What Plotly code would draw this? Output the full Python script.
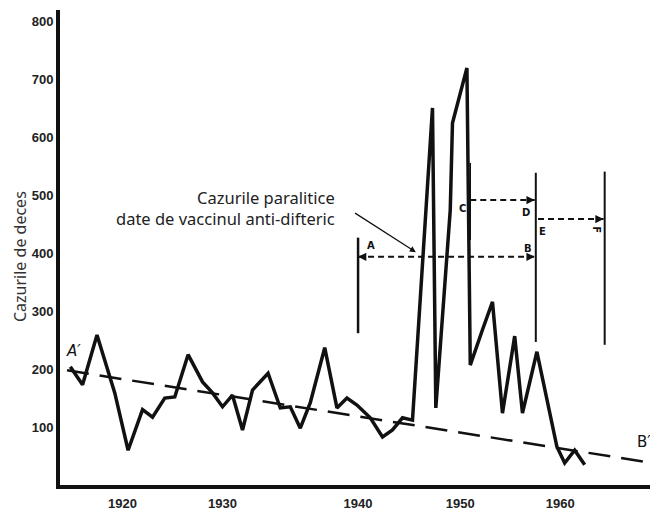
import plotly.graph_objects as go

# --- DATA ---

years = [1915.3, 1916.4, 1917.7, 1919.3, 1920.5, 1921.8, 1922.7, 1923.8, 1924.7, 1925.9,
         1927.2, 1928.1, 1929.0, 1929.9, 1930.8, 1931.7, 1933.1, 1934.2, 1935.1, 1936.0,
         1936.9, 1938.2, 1939.3, 1940.2, 1941.1, 1942.3, 1943.4, 1944.3, 1945.2, 1946.1,
         1947.9, 1948.2, 1949.5, 1949.7, 1951.0, 1951.3, 1952.4, 1953.3, 1954.2, 1955.3,
         1956.0, 1957.3, 1959.1, 1959.8, 1960.7, 1961.6]
deaths = [204, 173, 259, 159, 60, 130, 117, 150, 152, 225,
          178, 159, 135, 155, 95, 164, 193, 133, 135, 98,
          142, 237, 133, 150, 138, 116, 83, 95, 116, 112,
          651, 133, 475, 625, 720, 207, 268, 316, 124, 257,
          124, 230, 66, 38, 60, 35]

trend_years = [1915.0, 1967.7]
trend_deaths = [198, 38]

ytick_vals = [100, 200, 300, 400, 500, 600, 700, 800]
xtick_labels = ["1920", "1930", "1940", "1950", "1960"]
xtick_pos = [1920.0, 1929.0, 1941.2, 1950.4, 1959.4]

INK = "#111111"
TICKFONT = dict(family="Liberation Sans, Arial", size=13, color="#222222", weight="bold")

fig = go.Figure()

fig.add_trace(go.Scatter(x=trend_years, y=trend_deaths, mode="lines",
                         line=dict(color=INK, width=2.5, dash="22px,11px"),
                         hoverinfo="skip", showlegend=False))
fig.add_trace(go.Scatter(x=years, y=deaths, mode="lines",
                         line=dict(color=INK, width=3.5),
                         showlegend=False))

# vertical marker lines (A, C, B/D/E, F)
for x0, y0, y1, w in [(1941.2, 262, 427, 2.5), (1951.3, 423, 556, 1.5),
                      (1957.2, 247, 539, 2), (1963.4, 242, 541, 2)]:
    fig.add_shape(type="line", x0=x0, x1=x0, y0=y0, y1=y1,
                  line=dict(color=INK, width=w))

# dashed horizontal spans with arrow heads
spans = [(1941.2, 1957.1, 394, True), (1951.3, 1957.1, 492, False), (1957.4, 1963.3, 459, False)]
for x0, x1, y, both in spans:
    fig.add_shape(type="line", x0=x0, x1=x1, y0=y, y1=y,
                  line=dict(color=INK, width=2, dash="6px,4px"))
    fig.add_annotation(x=x1, y=y, ax=-9, ay=0, text="", showarrow=True,
                       arrowhead=2, arrowsize=1.1, arrowwidth=1.5, arrowcolor=INK)
    if both:
        fig.add_annotation(x=x0, y=y, ax=9, ay=0, text="", showarrow=True,
                           arrowhead=2, arrowsize=1.1, arrowwidth=1.5, arrowcolor=INK)

letter_font = dict(family="DejaVu Sans", size=10, color=INK, weight="bold")
for txt, x, y, ang in [("A", 1942.4, 413, 0), ("B", 1956.5, 408, 0), ("C", 1950.6, 478, 0),
                       ("D", 1956.3, 471, 0), ("E", 1957.8, 437, 0), ("F", 1962.7, 440, 90)]:
    fig.add_annotation(x=x, y=y, text=txt, showarrow=False, font=letter_font, textangle=ang)

fig.add_annotation(x=1915.6, y=232, text="A′", showarrow=False,
                   font=dict(family="DejaVu Sans", size=15, color=INK, style="italic"))
fig.add_annotation(x=1966.9, y=74, text="B′", showarrow=False,
                   font=dict(family="DejaVu Sans", size=15, color=INK))

# pointer to the paralytic cases
fig.add_annotation(x=1946.4, y=402, ax=1940.8, ay=471, axref="x", ayref="y",
                   text="", showarrow=True, arrowhead=2, arrowsize=1, arrowwidth=1.2,
                   arrowcolor=INK)
fig.add_annotation(x=1939.3, y=479, xanchor="right", yanchor="middle", align="right",
                   text="Cazurile paralitice<br>date de vaccinul anti-difteric",
                   showarrow=False,
                   font=dict(family="Noto Sans", size=16.5, color="#222222"))

fig.add_annotation(xref="paper", yref="paper", x=0, xshift=-40, y=0.48,
                   xanchor="center", yanchor="middle",
                   text="Cazurile de deces", textangle=-90, showarrow=False,
                   font=dict(family="Noto Sans", size=16, color="#333333"))

# the page body adds an 8px offset, so the figure is drawn 8px smaller
fig.update_layout(
    width=650, height=502,
    margin=dict(l=52, r=0, t=2, b=25),
    paper_bgcolor="white", plot_bgcolor="white",
    xaxis=dict(range=[1914.37, 1968.2], tickvals=xtick_pos, ticktext=xtick_labels,
               showgrid=False, zeroline=False, showline=True, linecolor=INK, linewidth=4,
               ticks="", tickfont=TICKFONT, ticklabelstandoff=3),
    yaxis=dict(range=[0, 820], tickvals=ytick_vals, showgrid=False, zeroline=False,
               showline=True, linecolor=INK, linewidth=4, ticks="", tickfont=TICKFONT,
               ticklabelstandoff=0),
)

fig.write_html("out.html")
